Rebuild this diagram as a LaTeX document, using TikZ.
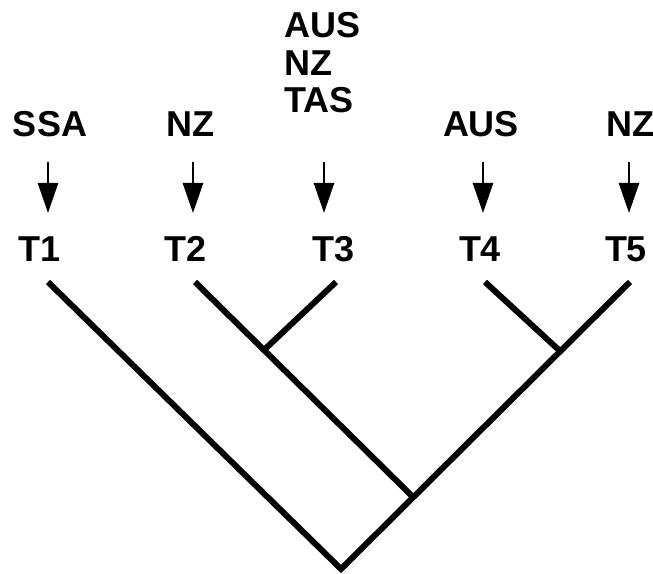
\documentclass[tikz,border=0pt]{standalone}
\usepackage{fontspec}
\setmainfont{Liberation Sans}
\usetikzlibrary{arrows.meta}

\begin{document}
\begin{tikzpicture}[x=0.75pt, y=0.75pt,
    label/.style={font=\fontsize{27}{28}\selectfont\bfseries, inner sep=0pt, anchor=base},
    branch/.style={line width=4.5pt, line join=miter},
    pointer/.style={line width=2pt, -{Triangle[length=22.5pt, width=15pt]}}]
    \useasboundingbox (0,0) rectangle (653,574);

    % Taxa
    \node [label] (T1) at (40,312) {T1};
    \node [label] (T2) at (186,312) {T2};
    \node [label] (T3) at (334,312) {T3};
    \node [label] (T4) at (480,312) {T4};
    \node [label] (T5) at (626,312) {T5};

    % Areas
    \node [label] (A1) at (50,437) {SSA};
    \node [label] (A2) at (190,437) {NZ};
    \node [label, anchor=south west, align=left] (A3) at (284,461) {AUS\\NZ\\TAS};
    \node [label] (A4) at (481,437) {AUS};
    \node [label] (A5) at (630,437) {NZ};

    % Arrows area -> taxon
    \foreach \i/\x in {1/48, 2/193, 3/324, 4/483, 5/629} {
        \coordinate (a\i) at (\x,412);
        \coordinate (b\i) at (\x,361);
        \draw [pointer] (a\i) -- (b\i);
    }

    % Tree
    \foreach \i/\x in {1/48, 2/195, 3/336, 4/485, 5/630}
        \coordinate (e\i) at (\x,292);
    \coordinate (root) at (341,5);
    \coordinate (n1) at (413,77);
    \coordinate (n2) at (264,224);
    \coordinate (n3) at (560,223);
    \draw [branch] (e1) -- (root) -- (e5);
    \draw [branch] (n1) -- (e2);
    \draw [branch] (n2) -- (e3);
    \draw [branch] (n3) -- (e4);
\end{tikzpicture}
\end{document}
